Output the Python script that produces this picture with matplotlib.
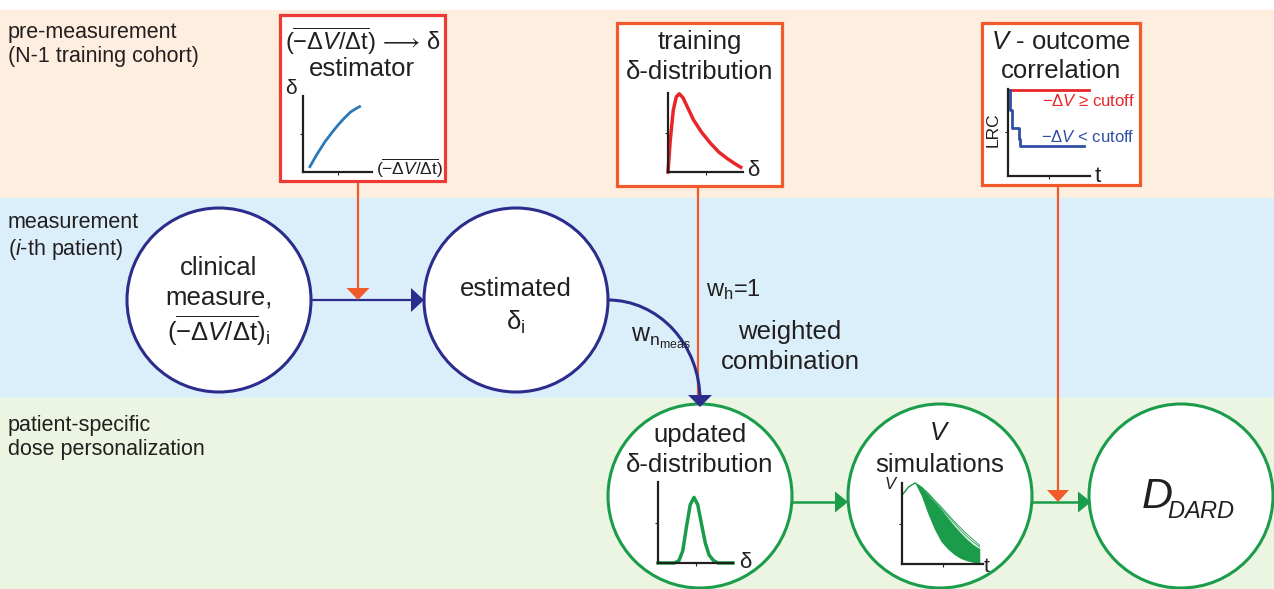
import matplotlib

matplotlib.use("Agg")
import matplotlib.pyplot as plt
from matplotlib.patches import Circle, Polygon, Rectangle, Arc

plt.rcParams["font.family"] = ["Liberation Sans", "DejaVu Sans"]
plt.rcParams["mathtext.fontset"] = "custom"
plt.rcParams["mathtext.rm"] = "Liberation Sans"
plt.rcParams["mathtext.it"] = "Liberation Sans:italic"
plt.rcParams["mathtext.bf"] = "Liberation Sans:bold"

# --- data (normalised 0..1 inside each little plot) ---
estimator_x = [0.10, 0.20, 0.32, 0.42, 0.51, 0.60, 0.69, 0.76, 0.82]
estimator_y = [0.07, 0.23, 0.40, 0.52, 0.62, 0.71, 0.79, 0.83, 0.86]

training_x = [0.0, 0.03, 0.07, 0.11, 0.15, 0.20, 0.27, 0.34, 0.45, 0.57, 0.68, 0.79, 0.90, 0.97]
training_y = [0.0, 0.40, 0.78, 0.95, 0.99, 0.94, 0.80, 0.66, 0.50, 0.36, 0.25, 0.17, 0.10, 0.06]

lrc_high_x = [0.0, 0.99]
lrc_high_y = [0.99, 0.99]
lrc_low_x = [0.0, 0.02, 0.045, 0.13, 0.15, 0.93]
lrc_low_y = [0.99, 0.76, 0.55, 0.43, 0.34, 0.34]

updated_x = [0.0, 0.22, 0.28, 0.33, 0.38, 0.43, 0.48, 0.53, 0.58, 0.63, 0.68, 0.74, 0.80, 1.0]
updated_y = [0.0, 0.0, 0.03, 0.15, 0.45, 0.72, 0.81, 0.72, 0.48, 0.25, 0.10, 0.03, 0.0, 0.0]

sim_t = [0.0, 0.08, 0.16, 0.24, 0.32, 0.40, 0.48, 0.56, 0.64, 0.72, 0.80, 0.88, 0.96]
sim_upper = [0.85, 0.95, 1.0, 0.94, 0.85, 0.76, 0.67, 0.57, 0.47, 0.38, 0.30, 0.23, 0.18]
sim_lower = [0.85, 0.95, 1.0, 0.84, 0.62, 0.43, 0.28, 0.19, 0.12, 0.07, 0.04, 0.02, 0.01]
sim_outlier1 = [0.85, 0.95, 1.0, 0.95, 0.87, 0.78, 0.69, 0.60, 0.51, 0.42, 0.34, 0.27, 0.21]
sim_outlier2 = [0.85, 0.95, 1.0, 0.95, 0.88, 0.79, 0.71, 0.62, 0.53, 0.45, 0.37, 0.30, 0.23]

stage_labels = ["pre-measurement\n(N-1 training cohort)",
                "measurement\n($\\mathit{i}$-th patient)",
                "patient-specific\ndose personalization"]

# --- colours ---
PEACH, SKY, MINT = "#fdeedf", "#dbeffa", "#ebf5e2"
NAVY, GREEN = "#2b2c8c", "#1a9c4a"
ORANGE, RED = "#f15a2b", "#ec3b35"
TXT = "#231f20"
W, H = 1274, 589

fig = plt.figure(figsize=(W / 100, H / 100), dpi=100)
ax = fig.add_axes([0, 0, 1, 1])
ax.set_xlim(0, W)
ax.set_ylim(H, 0)
ax.axis("off")

# background bands
for (top, bottom), col in zip([(10, 198), (198, 398), (398, 589)], [PEACH, SKY, MINT]):
    ax.add_patch(Rectangle((0, top), W, bottom - top, color=col, zorder=0))
for lab, y in zip(stage_labels, [22, 212, 415]):
    ax.text(8, y, lab, fontsize=15.5, color=TXT, va="top", ha="left", linespacing=1.2)


def head(x, y, direction, color, length=13, width=23):
    if direction == "down":
        pts = [(x, y), (x - width / 2, y - length), (x + width / 2, y - length)]
    else:
        pts = [(x, y), (x - length, y - width / 2), (x - length, y + width / 2)]
    ax.add_patch(Polygon(pts, closed=True, color=color, zorder=6, lw=0))


# arrows (lines)
ax.plot([311, 415], [300, 300], color=NAVY, lw=1.6, zorder=3)
head(424, 300, "right", NAVY, 13, 24)
ax.plot([358, 358], [181, 290], color=ORANGE, lw=1.6, zorder=4)
head(358, 300, "down", ORANGE, 12, 23)
ax.add_patch(Arc((608, 400), 184, 200, theta1=270, theta2=360, color=NAVY, lw=2.2, zorder=3))
ax.plot([700, 700], [398, 400], color=NAVY, lw=2.2, zorder=3)
head(700, 407, "down", NAVY, 12, 24)
ax.plot([698, 698], [186, 398], color=ORANGE, lw=1.6, zorder=2)
ax.plot([793, 838], [502, 502], color=GREEN, lw=1.8, zorder=3)
head(848, 502, "right", GREEN, 13, 21)
ax.plot([1033, 1080], [502, 502], color=GREEN, lw=1.8, zorder=3)
head(1091, 502, "right", GREEN, 13, 21)
ax.plot([1058, 1058], [185, 492], color=ORANGE, lw=1.6, zorder=4)
head(1058, 502, "down", ORANGE, 12, 22)

# boxes
for (l, t, r, b), col in zip([(280, 15, 445, 181), (617, 23, 782, 186), (982, 23, 1140, 185)],
                             [RED, ORANGE, ORANGE]):
    ax.add_patch(Rectangle((l, t), r - l, b - t, facecolor="white", edgecolor=col, lw=2.3, zorder=5))

# circles
for (cx, cy), col in zip([(219, 300), (516, 300)], [NAVY, NAVY]):
    ax.add_patch(Circle((cx, cy), 92, facecolor="white", edgecolor=col, lw=2.2, zorder=5))
for cx in [700, 940, 1181]:
    ax.add_patch(Circle((cx, 496), 92, facecolor="white", edgecolor=GREEN, lw=2.2, zorder=5))

BIG = 18.5
OVL_M = r"(\overline{\mathrm{-\Delta}\mathit{V}\mathrm{/\Delta t}})"
OVL = "$" + OVL_M + "$"
kw = dict(ha="center", va="center", color=TXT, zorder=7)
ax.text(363, 41, "$" + OVL_M + r"\,\longrightarrow\,\mathrm{\delta}$", fontsize=17, **kw)
ax.text(362, 69, "estimator", fontsize=BIG, **kw)
ax.text(700, 42, "training", fontsize=BIG, **kw)
ax.text(700, 72, "δ-distribution", fontsize=BIG, **kw)
ax.text(1061, 42, r"$\mathit{V}$ - outcome", fontsize=BIG, **kw)
ax.text(1061, 71, "correlation", fontsize=BIG, **kw)

ax.text(219, 268, "clinical", fontsize=BIG, **kw)
ax.text(219, 298, "measure,", fontsize=BIG, **kw)
ax.text(219, 331, OVL + r"$_{\mathrm{i}}$", fontsize=BIG, **kw)
ax.text(516, 289, "estimated", fontsize=BIG, **kw)
ax.text(516, 322, r"$\mathrm{\delta}_{\mathrm{i}}$", fontsize=BIG, **kw)
ax.text(700, 435, "updated", fontsize=BIG, **kw)
ax.text(700, 465, "δ-distribution", fontsize=BIG, **kw)
ax.text(940, 433, r"$\mathit{V}$", fontsize=BIG, **kw)
ax.text(940, 465, "simulations", fontsize=BIG, **kw)
ax.text(1157, 497, r"$\mathit{D}$", fontsize=31, **kw)
ax.text(1201, 512, r"$\mathit{DARD}$", fontsize=17, **kw)

ax.text(706, 290, r"$\mathrm{w}_{\mathrm{h}}$=1", fontsize=17, ha="left", va="center", color=TXT)
ax.text(790, 332, "weighted", fontsize=BIG, **kw)
ax.text(790, 362, "combination", fontsize=BIG, **kw)
ax.text(631, 338, r"$\mathrm{w}_{\mathrm{n}_{\mathrm{meas}}}$", fontsize=18, ha="left", va="center", color=TXT)


def inset(l, t, r, b):
    a = fig.add_axes([l / W, 1 - b / H, (r - l) / W, (b - t) / H], zorder=10)
    a.set_xlim(0, 1)
    a.set_ylim(0, 1)
    a.patch.set_visible(False)
    for s in ["top", "right"]:
        a.spines[s].set_visible(False)
    for s in ["left", "bottom"]:
        a.spines[s].set_linewidth(1.6)
        a.spines[s].set_color(TXT)
    a.set_xticks([0.5])
    a.set_yticks([0.5])
    a.tick_params(length=2, width=0.8, labelbottom=False, labelleft=False, color=TXT)
    return a


a1 = inset(303, 96, 372, 172)
a1.plot(estimator_x, estimator_y, color="#2a7ab9", lw=2, clip_on=False)
ax.text(291, 88, "δ", fontsize=15, **kw)
ax.text(410, 168, OVL, fontsize=12.5, **kw)

a2 = inset(668, 93, 743, 172)
a2.plot(training_x, training_y, color="#e8262a", lw=2.5, clip_on=False)
ax.text(753, 170, "δ", fontsize=16, **kw)

a3 = inset(1008, 89, 1090, 176)
a3.plot(lrc_high_x, lrc_high_y, color="#e8262a", lw=2, clip_on=False)
a3.step(lrc_low_x, lrc_low_y, where="post", color="#2e4fa3", lw=2, clip_on=False)
ax.text(1088, 101, r"$\mathrm{-\Delta}\mathit{V}$ ≥ cutoff", fontsize=12, ha="center", va="center",
        color="#e8262a", zorder=12)
ax.text(1088, 137, r"$\mathrm{-\Delta}\mathit{V}$ < cutoff", fontsize=12, ha="center", va="center",
        color="#2e4fa3", zorder=12)
ax.text(993, 130, "LRC", fontsize=12.5, rotation=90, **kw)
ax.text(1098, 177, "t", fontsize=16, **kw)

a4 = inset(658, 482, 733, 563)
a4.plot(updated_x, updated_y, color=GREEN, lw=2.5, clip_on=False)
ax.text(745, 562, "δ", fontsize=16, **kw)

a5 = inset(902, 483, 983, 564)
a5.fill_between(sim_t, sim_lower, sim_upper, color=GREEN, lw=0)
a5.plot(sim_t, sim_upper, color=GREEN, lw=0.8, clip_on=False)
a5.plot(sim_t, sim_outlier1, color=GREEN, lw=0.6, clip_on=False)
a5.plot(sim_t, sim_outlier2, color=GREEN, lw=0.6, clip_on=False)
ax.text(891, 484, r"$\mathit{V}$", fontsize=12, **kw)
ax.text(987, 566, "t", fontsize=15, **kw)

fig.savefig("out.png", dpi=100)
